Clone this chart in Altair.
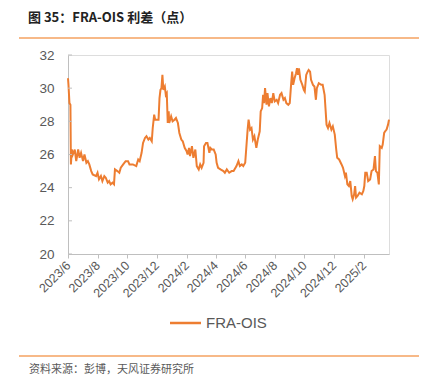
import altair as alt
import pandas as pd

dates = [
    "2023-06-01", "2023-06-02", "2023-06-04", "2023-06-06", "2023-06-07", "2023-06-09", "2023-06-11",
    "2023-06-15", "2023-06-18", "2023-06-22", "2023-06-25", "2023-06-28", "2023-07-02", "2023-07-05",
    "2023-07-09", "2023-07-12", "2023-07-15", "2023-07-19", "2023-07-22", "2023-07-29", "2023-08-01",
    "2023-08-04", "2023-08-08", "2023-08-11", "2023-08-15", "2023-08-18", "2023-08-22", "2023-08-25",
    "2023-08-28", "2023-09-01", "2023-09-04", "2023-09-06", "2023-09-11", "2023-09-15", "2023-09-18",
    "2023-09-23", "2023-09-28", "2023-10-03", "2023-10-06", "2023-10-13", "2023-10-20", "2023-10-24",
    "2023-10-27", "2023-10-31", "2023-11-03", "2023-11-07", "2023-11-10", "2023-11-14", "2023-11-17",
    "2023-11-21", "2023-11-23", "2023-11-26", "2023-11-28", "2023-11-30", "2023-12-05", "2023-12-07",
    "2023-12-09", "2023-12-11", "2023-12-13", "2023-12-15", "2023-12-18", "2023-12-20", "2023-12-22",
    "2023-12-24", "2023-12-26", "2023-12-27", "2023-12-31", "2024-01-03", "2024-01-07", "2024-01-10",
    "2024-01-14", "2024-01-17", "2024-01-21", "2024-01-24", "2024-01-28", "2024-02-01", "2024-02-03",
    "2024-02-06", "2024-02-08", "2024-02-12", "2024-02-15", "2024-02-19", "2024-02-22", "2024-02-26",
    "2024-02-29", "2024-03-03", "2024-03-07", "2024-03-08", "2024-03-12", "2024-03-15", "2024-03-19",
    "2024-03-21", "2024-03-24", "2024-03-28", "2024-04-01", "2024-04-03", "2024-04-06", "2024-04-11",
    "2024-04-17", "2024-04-20", "2024-04-24", "2024-04-29", "2024-05-04", "2024-05-08", "2024-05-14",
    "2024-05-18", "2024-05-21", "2024-05-25", "2024-05-28", "2024-06-01", "2024-06-03", "2024-06-06",
    "2024-06-08", "2024-06-11", "2024-06-14", "2024-06-17", "2024-06-20", "2024-06-24", "2024-06-27",
    "2024-07-01", "2024-07-03", "2024-07-06", "2024-07-08", "2024-07-10", "2024-07-12", "2024-07-15",
    "2024-07-17", "2024-07-20", "2024-07-23", "2024-07-26", "2024-07-29", "2024-08-01", "2024-08-05",
    "2024-08-08", "2024-08-12", "2024-08-15", "2024-08-19", "2024-08-22", "2024-08-25", "2024-08-29",
    "2024-09-01", "2024-09-04", "2024-09-06", "2024-09-08", "2024-09-11", "2024-09-14", "2024-09-16",
    "2024-09-18", "2024-09-20", "2024-09-23", "2024-09-27", "2024-09-30", "2024-10-02", "2024-10-05",
    "2024-10-08", "2024-10-10", "2024-10-13", "2024-10-15", "2024-10-19", "2024-10-22", "2024-10-25",
    "2024-10-27", "2024-10-31", "2024-11-05", "2024-11-08", "2024-11-12", "2024-11-14", "2024-11-16",
    "2024-11-19", "2024-11-22", "2024-11-26", "2024-11-29", "2024-12-03", "2024-12-06", "2024-12-08",
    "2024-12-12", "2024-12-17", "2024-12-20", "2024-12-24", "2024-12-26", "2024-12-29", "2025-01-01",
    "2025-01-04", "2025-01-07", "2025-01-09", "2025-01-12", "2025-01-14", "2025-01-16", "2025-01-19",
    "2025-01-23", "2025-01-28", "2025-01-31", "2025-02-02", "2025-02-04", "2025-02-07", "2025-02-10",
    "2025-02-14", "2025-02-17", "2025-02-21", "2025-02-24", "2025-02-26", "2025-03-01", "2025-03-04",
    "2025-03-06", "2025-03-10", "2025-03-12", "2025-03-15", "2025-03-17", "2025-03-20", "2025-03-23",
    "2025-03-25",
]

values = [
    30.6, 30.2, 29.1, 29.0, 25.4, 26.3, 26.0,
    26.3, 25.6, 26.3, 25.8, 26.1, 25.6, 26.0,
    25.5, 25.6, 25.4, 25.0, 24.8, 24.7, 24.9,
    24.5, 24.7, 24.4, 24.7, 24.6, 24.3, 24.4,
    24.2, 24.3, 24.2, 25.1, 25.0, 24.9, 25.2,
    25.4, 25.6, 25.6, 25.4, 25.4, 25.3, 25.7,
    25.6, 26.1, 26.7, 27.0, 27.1, 26.9, 27.0,
    26.8, 27.6, 28.4, 28.1, 28.1, 28.1, 29.4,
    29.9, 30.0, 30.8, 29.9, 30.1, 29.6, 29.7,
    27.9, 28.6, 27.9, 28.3, 28.0, 28.1, 28.2,
    27.9, 27.3, 26.9, 26.8, 26.4, 26.2, 26.0,
    26.4, 25.9, 26.5, 25.8, 26.3, 25.3, 25.1,
    25.4, 25.2, 25.5, 26.5, 26.7, 26.7, 26.1,
    26.4, 26.3, 26.3, 26.0, 25.5, 25.2, 25.1,
    25.0, 24.9, 25.1, 24.9, 25.0, 25.0, 25.3,
    25.6, 25.3, 25.4, 25.3, 25.5, 26.3, 27.5,
    28.1, 27.5, 27.6, 26.9, 27.1, 26.4, 26.9,
    27.4, 28.6, 28.8, 29.6, 29.1, 30.0, 29.0,
    29.7, 28.9, 29.4, 29.1, 29.7, 29.2, 29.3,
    29.1, 29.6, 29.7, 29.3, 29.4, 29.1, 29.0,
    29.1, 30.3, 31.0, 30.2, 30.6, 30.9, 31.2,
    30.8, 31.2, 30.5, 30.2, 29.9, 29.8, 30.8,
    31.0, 31.1, 31.0, 30.5, 30.2, 30.1, 29.3,
    30.0, 30.3, 30.2, 30.2, 29.6, 28.7, 27.8,
    27.6, 27.9, 27.5, 27.7, 27.2, 26.3, 25.8,
    25.7, 25.4, 25.2, 24.7, 24.9, 24.2, 24.1,
    24.4, 23.5, 23.3, 23.6, 24.1, 23.4, 23.5,
    23.7, 23.6, 23.8, 24.1, 24.9, 24.9, 24.4,
    24.5, 25.0, 25.1, 25.9, 25.0, 24.9, 24.2,
    26.5, 26.4, 26.6, 27.3, 27.4, 27.5, 27.8,
    28.1,
]

y_ticks = [20, 22, 24, 26, 28, 30, 32]
x_ticks = ["2023-06-01", "2023-08-01", "2023-10-01", "2023-12-01", "2024-02-01", "2024-04-01",
           "2024-06-01", "2024-08-01", "2024-10-01", "2024-12-01", "2025-02-01"]

title_text = "图 35：FRA-OIS 利差（点）"
source_text = "资料来源：彭博，天风证券研究所"
series_name = "FRA-OIS"

df = pd.DataFrame({"date": pd.to_datetime(dates), "value": values})
tick_df = pd.DataFrame({"v": y_ticks})

ORANGE = "#ED7D31"
GRAY = "#595959"
AXIS = "#BFBFBF"
FONT = "Liberation Sans"

W, H = 321, 199

x_enc = alt.X(
    "date:T",
    scale=alt.Scale(domain=[dates[0], dates[-1]], nice=False),
    axis=alt.Axis(
        values=[pd.Timestamp(d).isoformat() for d in x_ticks],
        format="%Y/%-m",
        labelAngle=-45,
        labelAlign="right",
        labelBaseline="middle",
        labelFontSize=12.5,
        labelColor=GRAY,
        labelFont=FONT,
        labelPadding=5,
        labelOverlap=False,
        labelFlush=False,
        grid=False,
        domainColor=AXIS,
        tickColor=AXIS,
        tickSize=4,
        title=None,
    ),
)

y_axis = alt.Axis(
    values=y_ticks,
    labelFontSize=13.5,
    labelColor=GRAY,
    labelFont=FONT,
    labelPadding=14,
    labelOverlap=False,
    labelFlush=False,
    ticks=False,
    grid=False,
    domainColor=AXIS,
    title=None,
)
y_scale = alt.Scale(domain=[20, 32], nice=False, zero=False)

line = alt.Chart(df).mark_line(color=ORANGE, strokeWidth=2).encode(
    x=x_enc,
    y=alt.Y("value:Q", scale=y_scale, axis=y_axis),
)

yticks = alt.Chart(tick_df).mark_rule(color=AXIS, strokeWidth=1).encode(
    y=alt.Y("v:Q", scale=y_scale, axis=y_axis),
    x=alt.value(0),
    x2=alt.value(4),
)

deco_df = pd.DataFrame({"k": [0]})
base = alt.Chart(deco_df)

top_rule = base.mark_rule(color="#F4A261", strokeWidth=1.5).encode(
    x=alt.value(-49), x2=alt.value(351), y=alt.value(-17)
)
bottom_rule = base.mark_rule(color="#F4A261", strokeWidth=1.5).encode(
    x=alt.value(-49), x2=alt.value(351), y=alt.value(301)
)
title = base.mark_text(
    text=title_text, align="left", baseline="middle", fontSize=13, fontWeight="bold",
    font="Noto Sans CJK SC", color="#222222"
).encode(x=alt.value(-40), y=alt.value(-37))
source = base.mark_text(
    text=source_text, align="left", baseline="middle", fontSize=11,
    font="Noto Sans CJK SC", color=GRAY
).encode(x=alt.value(-39), y=alt.value(315))
legend_line = base.mark_rule(color=ORANGE, strokeWidth=2.5).encode(
    x=alt.value(102), x2=alt.value(133), y=alt.value(268)
)
legend_text = base.mark_text(
    text=series_name, align="left", baseline="middle", fontSize=15,
    font=FONT, color=GRAY
).encode(x=alt.value(138), y=alt.value(268))

chart = alt.layer(
    line, yticks, top_rule, bottom_rule, title, source, legend_line, legend_text
).properties(
    width=W,
    height=H,
    autosize=alt.AutoSizeParams(type="none"),
    padding={"left": 60, "top": 47, "right": 30, "bottom": 126},
).configure_view(stroke=None).configure(background="white")

chart.save("out.html", embed_options={"renderer": "svg", "actions": False})
